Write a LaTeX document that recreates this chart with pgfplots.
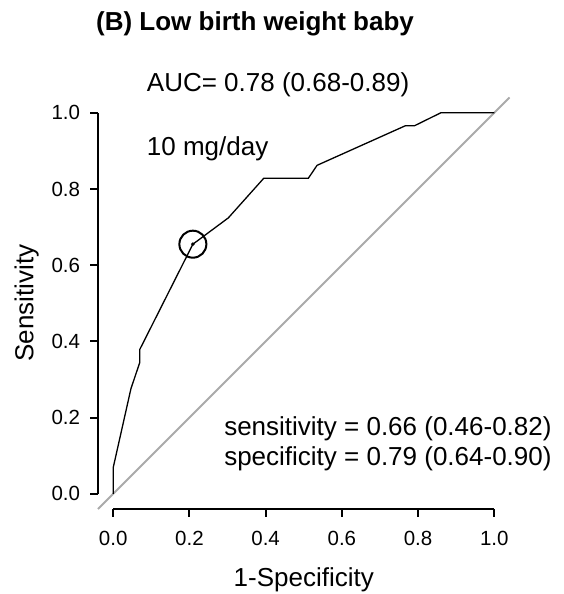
\documentclass[border=0pt]{standalone}
\usepackage{fontspec}
\setmainfont{Liberation Sans}
\usepackage{pgfplots}
\pgfplotsset{compat=1.18}
\usetikzlibrary{calc}

\definecolor{diaggray}{RGB}{170,170,170}

\newcommand{\textsz}{\fontsize{26}{30}\selectfont}
\newcommand{\ticksz}{\fontsize{20.5}{24}\selectfont}

\begin{document}
\begin{tikzpicture}
\begin{axis}[
    name=roc,
    width=411.5pt,
    height=411.5pt,
    scale only axis,
    xmin=-0.04, xmax=1.04,
    ymin=-0.04, ymax=1.04,
    clip=false,
    axis x line=none,
    axis y line=none,
]
% reference diagonal
\addplot[diaggray, line width=1.8pt] coordinates {(-0.04,-0.04) (1.04,1.04)};

% ROC curve
\addplot[black, line width=1.3pt] coordinates {
    (0,0) (0,0.069) (0.0465,0.276) (0.0698,0.345) (0.0698,0.379)
    (0.209,0.655) (0.302,0.724) (0.395,0.828) (0.512,0.828)
    (0.535,0.862) (0.767,0.966) (0.791,0.966) (0.860,1) (1,1)
};

% optimal cut-off
\addplot[only marks, mark=o, mark size=13.5pt, mark options={line width=2pt, black}]
    coordinates {(0.209,0.655)};
\addplot[only marks, mark=*, mark size=1.6pt, black] coordinates {(0.209,0.655)};

% anchors for the R style axes drawn below
\coordinate (x0) at (axis cs:0,-0.04);
\coordinate (x1) at (axis cs:1,-0.04);
\coordinate (y0) at (axis cs:-0.04,0);
\coordinate (y1) at (axis cs:-0.04,1);

% axis titles
\node[font=\textsz, anchor=base, inner sep=0pt]
    at (axis description cs:0.5,-0.188) {1-Specificity};
\node[font=\textsz, anchor=base, inner sep=0pt, rotate=90]
    at (axis description cs:-0.157,0.5) {Sensitivity};

\node[font=\textsz\bfseries, anchor=base west, inner sep=0pt]
    at (axis description cs:-0.005,1.163) {(B) Low birth weight baby};
\node[font=\textsz, anchor=base west, inner sep=0pt] at (axis cs:0.088,1.055) {AUC= 0.78 (0.68-0.89)};
\node[font=\textsz, anchor=base west, inner sep=0pt] at (axis cs:0.088,0.889) {10 mg/day};
\node[font=\textsz, anchor=base east, inner sep=0pt] at (axis cs:1.151,0.154) {sensitivity = 0.66 (0.46-0.82)};
\node[font=\textsz, anchor=base east, inner sep=0pt] at (axis cs:1.151,0.073) {specificity = 0.79 (0.64-0.90)};
\end{axis}

% axis lines span the ticks only, ticks point outward
\draw[black, line width=2pt] (x0) -- (x1);
\draw[black, line width=2pt] (y0) -- (y1);
\foreach \i/\lab in {0/0.0,1/0.2,2/0.4,3/0.6,4/0.8,5/1.0} {
  \draw[black, line width=2pt] ($(x0)!\i/5!(x1)$) -- ++(0,-8pt)
    node[font=\ticksz, anchor=base, inner sep=0pt, yshift=-29pt] {\lab};
  \draw[black, line width=2pt] ($(y0)!\i/5!(y1)$) -- ++(-8pt,0)
    node[font=\ticksz, anchor=east, inner sep=0pt, xshift=-9pt] {\lab};
}
\pgfresetboundingbox
\path[use as bounding box] (-98pt,-85pt) rectangle (466pt,509pt);
\end{tikzpicture}
\end{document}
